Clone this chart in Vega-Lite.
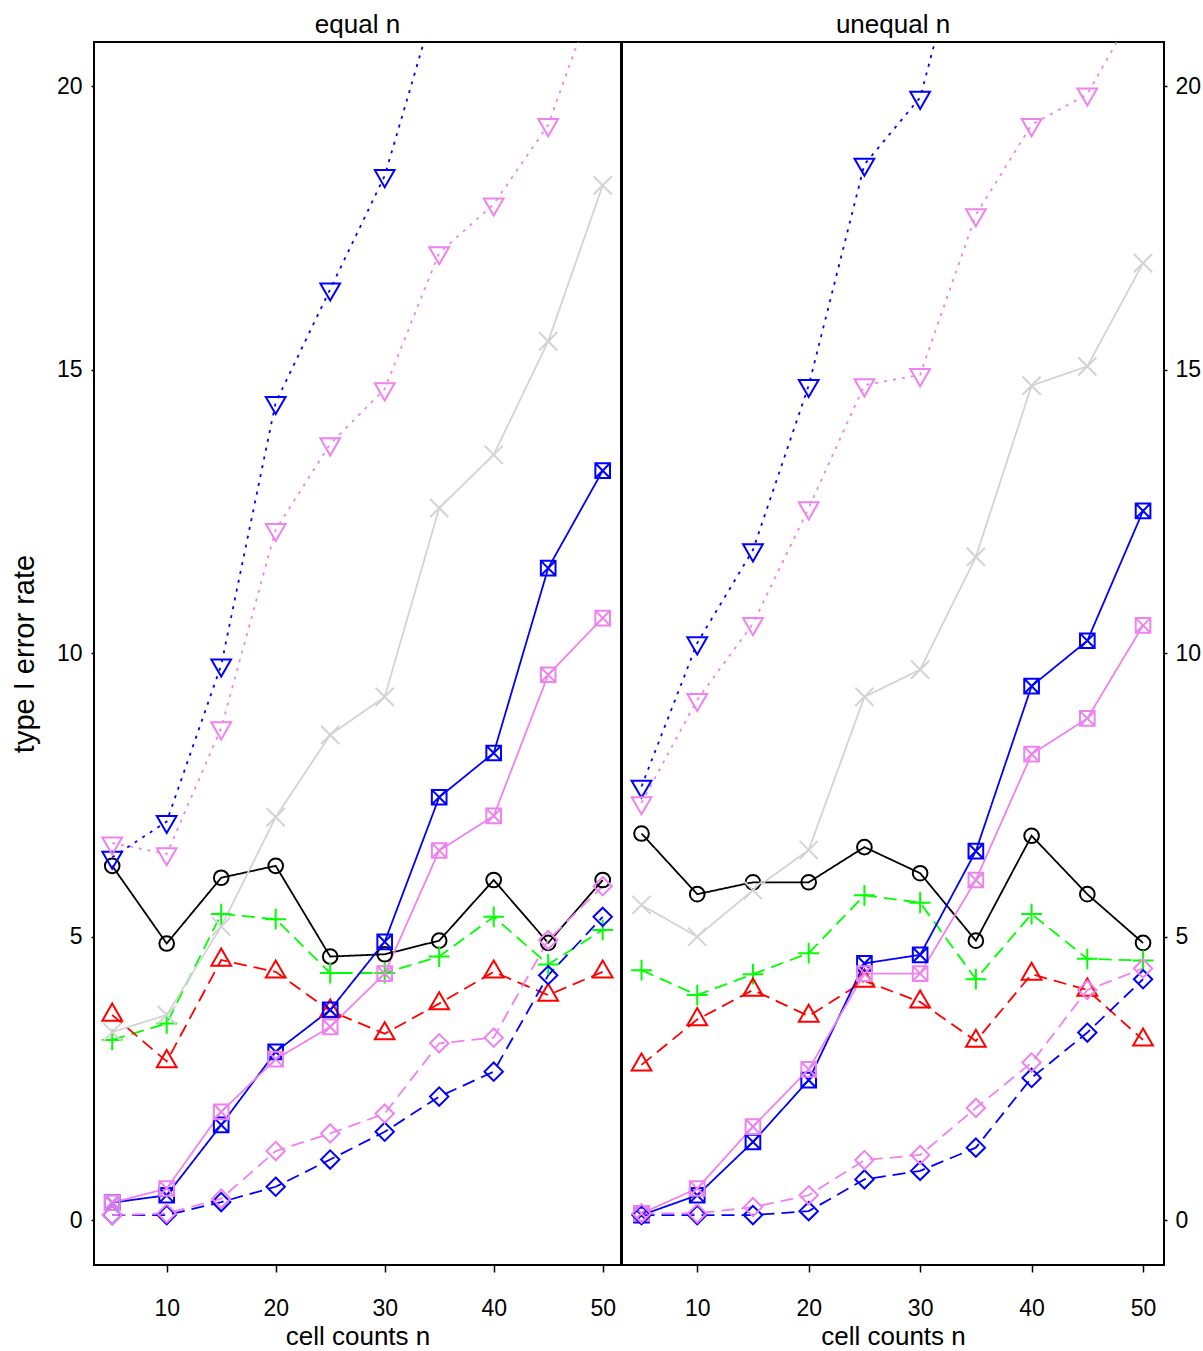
{
  "$schema": "https://vega.github.io/schema/vega-lite/v6.json",
  "padding": {"left": 9, "top": 11, "right": 0, "bottom": 0},
  "background": "white",
  "data": {"values": [
    {"p":"equal n","s":"s1","n":5,"v":6.25},{"p":"equal n","s":"s1","n":10,"v":4.88},{"p":"equal n","s":"s1","n":15,"v":6.04},{"p":"equal n","s":"s1","n":20,"v":6.25},{"p":"equal n","s":"s1","n":25,"v":4.65},{"p":"equal n","s":"s1","n":30,"v":4.69},{"p":"equal n","s":"s1","n":35,"v":4.93},{"p":"equal n","s":"s1","n":40,"v":6.0},{"p":"equal n","s":"s1","n":45,"v":4.89},{"p":"equal n","s":"s1","n":50,"v":6.0},
    {"p":"equal n","s":"s2","n":5,"v":3.18},{"p":"equal n","s":"s2","n":10,"v":3.47},{"p":"equal n","s":"s2","n":15,"v":5.4},{"p":"equal n","s":"s2","n":20,"v":5.31},{"p":"equal n","s":"s2","n":25,"v":4.36},{"p":"equal n","s":"s2","n":30,"v":4.36},{"p":"equal n","s":"s2","n":35,"v":4.65},{"p":"equal n","s":"s2","n":40,"v":5.35},{"p":"equal n","s":"s2","n":45,"v":4.51},{"p":"equal n","s":"s2","n":50,"v":5.12},
    {"p":"equal n","s":"s3","n":5,"v":3.62},{"p":"equal n","s":"s3","n":10,"v":2.8},{"p":"equal n","s":"s3","n":15,"v":4.59},{"p":"equal n","s":"s3","n":20,"v":4.38},{"p":"equal n","s":"s3","n":25,"v":3.69},{"p":"equal n","s":"s3","n":30,"v":3.29},{"p":"equal n","s":"s3","n":35,"v":3.82},{"p":"equal n","s":"s3","n":40,"v":4.38},{"p":"equal n","s":"s3","n":45,"v":3.97},{"p":"equal n","s":"s3","n":50,"v":4.38},
    {"p":"equal n","s":"s4","n":5,"v":0.31},{"p":"equal n","s":"s4","n":10,"v":0.44},{"p":"equal n","s":"s4","n":15,"v":1.68},{"p":"equal n","s":"s4","n":20,"v":2.97},{"p":"equal n","s":"s4","n":25,"v":3.71},{"p":"equal n","s":"s4","n":30,"v":4.91},{"p":"equal n","s":"s4","n":35,"v":7.46},{"p":"equal n","s":"s4","n":40,"v":8.24},{"p":"equal n","s":"s4","n":45,"v":11.5},{"p":"equal n","s":"s4","n":50,"v":13.22},
    {"p":"equal n","s":"s5","n":5,"v":0.31},{"p":"equal n","s":"s5","n":10,"v":0.56},{"p":"equal n","s":"s5","n":15,"v":1.91},{"p":"equal n","s":"s5","n":20,"v":2.84},{"p":"equal n","s":"s5","n":25,"v":3.41},{"p":"equal n","s":"s5","n":30,"v":4.35},{"p":"equal n","s":"s5","n":35,"v":6.52},{"p":"equal n","s":"s5","n":40,"v":7.13},{"p":"equal n","s":"s5","n":45,"v":9.62},{"p":"equal n","s":"s5","n":50,"v":10.62},
    {"p":"equal n","s":"s6","n":5,"v":0.09},{"p":"equal n","s":"s6","n":10,"v":0.09},{"p":"equal n","s":"s6","n":15,"v":0.32},{"p":"equal n","s":"s6","n":20,"v":0.59},{"p":"equal n","s":"s6","n":25,"v":1.07},{"p":"equal n","s":"s6","n":30,"v":1.56},{"p":"equal n","s":"s6","n":35,"v":2.18},{"p":"equal n","s":"s6","n":40,"v":2.62},{"p":"equal n","s":"s6","n":45,"v":4.32},{"p":"equal n","s":"s6","n":50,"v":5.35},
    {"p":"equal n","s":"s7","n":5,"v":0.09},{"p":"equal n","s":"s7","n":10,"v":0.12},{"p":"equal n","s":"s7","n":15,"v":0.38},{"p":"equal n","s":"s7","n":20,"v":1.22},{"p":"equal n","s":"s7","n":25,"v":1.53},{"p":"equal n","s":"s7","n":30,"v":1.88},{"p":"equal n","s":"s7","n":35,"v":3.12},{"p":"equal n","s":"s7","n":40,"v":3.22},{"p":"equal n","s":"s7","n":45,"v":4.94},{"p":"equal n","s":"s7","n":50,"v":5.89},
    {"p":"equal n","s":"s8","n":5,"v":6.4},{"p":"equal n","s":"s8","n":10,"v":7.03},{"p":"equal n","s":"s8","n":15,"v":9.79},{"p":"equal n","s":"s8","n":20,"v":14.42},{"p":"equal n","s":"s8","n":25,"v":16.42},{"p":"equal n","s":"s8","n":30,"v":18.42},{"p":"equal n","s":"s8","n":35,"v":21.7},{"p":"equal n","s":"s8","n":40,"v":25},{"p":"equal n","s":"s8","n":45,"v":28},{"p":"equal n","s":"s8","n":50,"v":31},
    {"p":"equal n","s":"s9","n":5,"v":6.65},{"p":"equal n","s":"s9","n":10,"v":6.46},{"p":"equal n","s":"s9","n":15,"v":8.68},{"p":"equal n","s":"s9","n":20,"v":12.18},{"p":"equal n","s":"s9","n":25,"v":13.69},{"p":"equal n","s":"s9","n":30,"v":14.66},{"p":"equal n","s":"s9","n":35,"v":17.06},{"p":"equal n","s":"s9","n":40,"v":17.92},{"p":"equal n","s":"s9","n":45,"v":19.32},{"p":"equal n","s":"s9","n":50,"v":22.0},
    {"p":"equal n","s":"s10","n":5,"v":3.32},{"p":"equal n","s":"s10","n":10,"v":3.62},{"p":"equal n","s":"s10","n":15,"v":5.18},{"p":"equal n","s":"s10","n":20,"v":7.11},{"p":"equal n","s":"s10","n":25,"v":8.56},{"p":"equal n","s":"s10","n":30,"v":9.23},{"p":"equal n","s":"s10","n":35,"v":12.56},{"p":"equal n","s":"s10","n":40,"v":13.5},{"p":"equal n","s":"s10","n":45,"v":15.5},{"p":"equal n","s":"s10","n":50,"v":18.25},
    {"p":"unequal n","s":"s1","n":5,"v":6.82},{"p":"unequal n","s":"s1","n":10,"v":5.75},{"p":"unequal n","s":"s1","n":15,"v":5.96},{"p":"unequal n","s":"s1","n":20,"v":5.96},{"p":"unequal n","s":"s1","n":25,"v":6.58},{"p":"unequal n","s":"s1","n":30,"v":6.12},{"p":"unequal n","s":"s1","n":35,"v":4.93},{"p":"unequal n","s":"s1","n":40,"v":6.78},{"p":"unequal n","s":"s1","n":45,"v":5.75},{"p":"unequal n","s":"s1","n":50,"v":4.89},
    {"p":"unequal n","s":"s2","n":5,"v":4.41},{"p":"unequal n","s":"s2","n":10,"v":3.97},{"p":"unequal n","s":"s2","n":15,"v":4.34},{"p":"unequal n","s":"s2","n":20,"v":4.71},{"p":"unequal n","s":"s2","n":25,"v":5.73},{"p":"unequal n","s":"s2","n":30,"v":5.6},{"p":"unequal n","s":"s2","n":35,"v":4.25},{"p":"unequal n","s":"s2","n":40,"v":5.4},{"p":"unequal n","s":"s2","n":45,"v":4.61},{"p":"unequal n","s":"s2","n":50,"v":4.58},
    {"p":"unequal n","s":"s3","n":5,"v":2.74},{"p":"unequal n","s":"s3","n":10,"v":3.54},{"p":"unequal n","s":"s3","n":15,"v":4.06},{"p":"unequal n","s":"s3","n":20,"v":3.6},{"p":"unequal n","s":"s3","n":25,"v":4.22},{"p":"unequal n","s":"s3","n":30,"v":3.85},{"p":"unequal n","s":"s3","n":35,"v":3.16},{"p":"unequal n","s":"s3","n":40,"v":4.34},{"p":"unequal n","s":"s3","n":45,"v":4.06},{"p":"unequal n","s":"s3","n":50,"v":3.18},
    {"p":"unequal n","s":"s4","n":5,"v":0.09},{"p":"unequal n","s":"s4","n":10,"v":0.44},{"p":"unequal n","s":"s4","n":15,"v":1.38},{"p":"unequal n","s":"s4","n":20,"v":2.47},{"p":"unequal n","s":"s4","n":25,"v":4.53},{"p":"unequal n","s":"s4","n":30,"v":4.68},{"p":"unequal n","s":"s4","n":35,"v":6.51},{"p":"unequal n","s":"s4","n":40,"v":9.42},{"p":"unequal n","s":"s4","n":45,"v":10.22},{"p":"unequal n","s":"s4","n":50,"v":12.51},
    {"p":"unequal n","s":"s5","n":5,"v":0.12},{"p":"unequal n","s":"s5","n":10,"v":0.56},{"p":"unequal n","s":"s5","n":15,"v":1.65},{"p":"unequal n","s":"s5","n":20,"v":2.66},{"p":"unequal n","s":"s5","n":25,"v":4.35},{"p":"unequal n","s":"s5","n":30,"v":4.35},{"p":"unequal n","s":"s5","n":35,"v":6.0},{"p":"unequal n","s":"s5","n":40,"v":8.22},{"p":"unequal n","s":"s5","n":45,"v":8.85},{"p":"unequal n","s":"s5","n":50,"v":10.49},
    {"p":"unequal n","s":"s6","n":5,"v":0.09},{"p":"unequal n","s":"s6","n":10,"v":0.09},{"p":"unequal n","s":"s6","n":15,"v":0.09},{"p":"unequal n","s":"s6","n":20,"v":0.16},{"p":"unequal n","s":"s6","n":25,"v":0.72},{"p":"unequal n","s":"s6","n":30,"v":0.87},{"p":"unequal n","s":"s6","n":35,"v":1.28},{"p":"unequal n","s":"s6","n":40,"v":2.51},{"p":"unequal n","s":"s6","n":45,"v":3.31},{"p":"unequal n","s":"s6","n":50,"v":4.25},
    {"p":"unequal n","s":"s7","n":5,"v":0.12},{"p":"unequal n","s":"s7","n":10,"v":0.12},{"p":"unequal n","s":"s7","n":15,"v":0.23},{"p":"unequal n","s":"s7","n":20,"v":0.44},{"p":"unequal n","s":"s7","n":25,"v":1.06},{"p":"unequal n","s":"s7","n":30,"v":1.15},{"p":"unequal n","s":"s7","n":35,"v":1.98},{"p":"unequal n","s":"s7","n":40,"v":2.78},{"p":"unequal n","s":"s7","n":45,"v":4.06},{"p":"unequal n","s":"s7","n":50,"v":4.44},
    {"p":"unequal n","s":"s8","n":5,"v":7.65},{"p":"unequal n","s":"s8","n":10,"v":10.18},{"p":"unequal n","s":"s8","n":15,"v":11.82},{"p":"unequal n","s":"s8","n":20,"v":14.72},{"p":"unequal n","s":"s8","n":25,"v":18.62},{"p":"unequal n","s":"s8","n":30,"v":19.8},{"p":"unequal n","s":"s8","n":35,"v":23.5},{"p":"unequal n","s":"s8","n":40,"v":27},{"p":"unequal n","s":"s8","n":45,"v":30},{"p":"unequal n","s":"s8","n":50,"v":33},
    {"p":"unequal n","s":"s9","n":5,"v":7.36},{"p":"unequal n","s":"s9","n":10,"v":9.18},{"p":"unequal n","s":"s9","n":15,"v":10.52},{"p":"unequal n","s":"s9","n":20,"v":12.56},{"p":"unequal n","s":"s9","n":25,"v":14.73},{"p":"unequal n","s":"s9","n":30,"v":14.91},{"p":"unequal n","s":"s9","n":35,"v":17.73},{"p":"unequal n","s":"s9","n":40,"v":19.32},{"p":"unequal n","s":"s9","n":45,"v":19.86},{"p":"unequal n","s":"s9","n":50,"v":21.6},
    {"p":"unequal n","s":"s10","n":5,"v":5.56},{"p":"unequal n","s":"s10","n":10,"v":5.0},{"p":"unequal n","s":"s10","n":15,"v":5.82},{"p":"unequal n","s":"s10","n":20,"v":6.53},{"p":"unequal n","s":"s10","n":25,"v":9.23},{"p":"unequal n","s":"s10","n":30,"v":9.71},{"p":"unequal n","s":"s10","n":35,"v":11.7},{"p":"unequal n","s":"s10","n":40,"v":14.72},{"p":"unequal n","s":"s10","n":45,"v":15.06},{"p":"unequal n","s":"s10","n":50,"v":16.88}
  ]},
  "config": {
    "view": {"stroke": "black", "strokeWidth": 2},
    "concat": {"spacing": -2},
    "font": "Liberation Sans, Arial, sans-serif",
    "axis": {
      "domain": false, "grid": false,
      "labelFont": "Liberation Sans, Arial, sans-serif",
      "titleFont": "Liberation Sans, Arial, sans-serif",
      "labelFontSize": 23, "titleFontSize": 26, "titleFontWeight": "normal",
      "labelColor": "black", "titleColor": "black", "tickColor": "black", "tickWidth": 1.5
    },
    "title": {"font": "Liberation Sans, Arial, sans-serif", "fontSize": 26, "fontWeight": "normal", "color": "black", "anchor": "middle", "offset": 4}
  },
  "hconcat": [
    {
      "width": 527, "height": 1223,
      "title": "equal n",
      "transform": [{"filter": "datum.p === 'equal n'"}],
      "encoding": {
        "x": {"field": "n", "type": "quantitative", "scale": {"domain": [3.33, 51.68], "nice": false, "zero": false},
              "axis": {"values": [10, 20, 30, 40, 50], "tickSize": 7, "labelPadding": 25, "title": "cell counts n", "titlePadding": 3}},
        "y": {"field": "v", "type": "quantitative", "scale": {"domain": [-0.79, 20.78], "nice": false, "zero": false},
              "axis": {"values": [0, 5, 10, 15, 20], "tickSize": 3, "labelPadding": 9, "title": "type I error rate", "titleFontSize": 29, "titlePadding": 17}},
        "color": {"field": "s", "type": "nominal", "legend": null,
                  "scale": {"domain": ["s1","s2","s3","s4","s5","s6","s7","s8","s9","s10"],
                            "range": ["#000000","#00ff00","#ff0000","#0000ff","#ee82ee","#0000ff","#ee82ee","#0000ff","#ee82ee","#d3d3d3"]}}
      },
      "layer": [
        {"mark": {"type": "line", "clip": true, "strokeWidth": 1.8},
         "encoding": {"detail": {"field": "s"},
           "strokeDash": {"field": "s", "type": "nominal", "legend": null,
             "scale": {"domain": ["s1","s2","s3","s4","s5","s6","s7","s8","s9","s10"],
                       "range": [[1,0],[13,7],[13,7],[1,0],[1,0],[13,7],[13,7],[3,6],[3,6],[1,0]]}}}},
        {"mark": {"type": "point", "clip": true, "filled": false, "strokeWidth": 2, "size": 520, "opacity": 1},
         "encoding": {
           "shape": {"field": "s", "type": "nominal", "legend": null,
             "scale": {"domain": ["s1","s2","s3","s4","s5","s6","s7","s8","s9","s10"],
                       "range": [
                         "M0.643,0A0.643,0.643,0,1,1,-0.643,0A0.643,0.643,0,1,1,0.643,0Z",
                         "M-0.91,0L0.91,0M0,-0.91L0,0.91",
                         "M0,-1L0.866,0.5L-0.866,0.5Z",
                         "M-0.643,-0.643L0.643,-0.643L0.643,0.643L-0.643,0.643ZM-0.643,-0.643L0.643,0.643M-0.643,0.643L0.643,-0.643",
                         "M-0.643,-0.643L0.643,-0.643L0.643,0.643L-0.643,0.643ZM-0.643,-0.643L0.643,0.643M-0.643,0.643L0.643,-0.643",
                         "M0,-0.806L0.806,0L0,0.806L-0.806,0Z",
                         "M0,-0.806L0.806,0L0,0.806L-0.806,0Z",
                         "M0,1L0.866,-0.5L-0.866,-0.5Z",
                         "M0,1L0.866,-0.5L-0.866,-0.5Z",
                         "M-0.8,-0.8L0.8,0.8M-0.8,0.8L0.8,-0.8"]}}}}
      ]
    },
    {
      "width": 542, "height": 1223,
      "title": "unequal n",
      "transform": [{"filter": "datum.p === 'unequal n'"}],
      "encoding": {
        "x": {"field": "n", "type": "quantitative", "scale": {"domain": [3.25, 51.88], "nice": false, "zero": false},
              "axis": {"values": [10, 20, 30, 40, 50], "tickSize": 7, "labelPadding": 25, "title": "cell counts n", "titlePadding": 3}},
        "y": {"field": "v", "type": "quantitative", "scale": {"domain": [-0.79, 20.78], "nice": false, "zero": false},
              "axis": {"orient": "right", "values": [0, 5, 10, 15, 20], "tickSize": 3, "labelPadding": 8, "title": null}},
        "color": {"field": "s", "type": "nominal", "legend": null,
                  "scale": {"domain": ["s1","s2","s3","s4","s5","s6","s7","s8","s9","s10"],
                            "range": ["#000000","#00ff00","#ff0000","#0000ff","#ee82ee","#0000ff","#ee82ee","#0000ff","#ee82ee","#d3d3d3"]}}
      },
      "layer": [
        {"mark": {"type": "line", "clip": true, "strokeWidth": 1.8},
         "encoding": {"detail": {"field": "s"},
           "strokeDash": {"field": "s", "type": "nominal", "legend": null,
             "scale": {"domain": ["s1","s2","s3","s4","s5","s6","s7","s8","s9","s10"],
                       "range": [[1,0],[13,7],[13,7],[1,0],[1,0],[13,7],[13,7],[3,6],[3,6],[1,0]]}}}},
        {"mark": {"type": "point", "clip": true, "filled": false, "strokeWidth": 2, "size": 520, "opacity": 1},
         "encoding": {
           "shape": {"field": "s", "type": "nominal", "legend": null,
             "scale": {"domain": ["s1","s2","s3","s4","s5","s6","s7","s8","s9","s10"],
                       "range": [
                         "M0.643,0A0.643,0.643,0,1,1,-0.643,0A0.643,0.643,0,1,1,0.643,0Z",
                         "M-0.91,0L0.91,0M0,-0.91L0,0.91",
                         "M0,-1L0.866,0.5L-0.866,0.5Z",
                         "M-0.643,-0.643L0.643,-0.643L0.643,0.643L-0.643,0.643ZM-0.643,-0.643L0.643,0.643M-0.643,0.643L0.643,-0.643",
                         "M-0.643,-0.643L0.643,-0.643L0.643,0.643L-0.643,0.643ZM-0.643,-0.643L0.643,0.643M-0.643,0.643L0.643,-0.643",
                         "M0,-0.806L0.806,0L0,0.806L-0.806,0Z",
                         "M0,-0.806L0.806,0L0,0.806L-0.806,0Z",
                         "M0,1L0.866,-0.5L-0.866,-0.5Z",
                         "M0,1L0.866,-0.5L-0.866,-0.5Z",
                         "M-0.8,-0.8L0.8,0.8M-0.8,0.8L0.8,-0.8"]}}}}
      ]
    }
  ]
}
